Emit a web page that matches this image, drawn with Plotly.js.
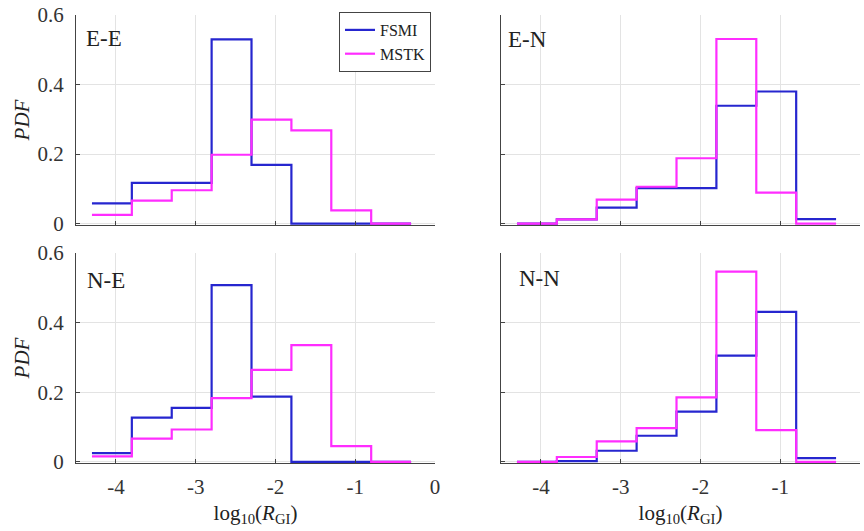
<!DOCTYPE html>
<html>
<head>
<meta charset="utf-8">
<script src="https://cdn.plot.ly/plotly-3.0.1.min.js"></script>
<style>html,body{margin:0;padding:0;background:#fff;}#chart{width:864px;height:531px;}</style>
</head>
<body>
<div id="chart"></div>
<script>
// Bin edges of log10(R_GI) histograms (8 bins, width 0.5)
var binEdges = [-4.3, -3.8, -3.3, -2.8, -2.3, -1.8, -1.3, -0.8, -0.3];
var panelNames = ['E-E', 'E-N', 'N-E', 'N-N'];
var seriesNames = ['FSMI', 'MSTK'];

// PDF values per bin
var fsmiEE = [0.058, 0.117, 0.117, 0.530, 0.169, 0.000, 0.000, 0.000];
var mstkEE = [0.025, 0.066, 0.096, 0.198, 0.299, 0.268, 0.038, 0.000];
var fsmiEN = [0.000, 0.012, 0.046, 0.102, 0.102, 0.339, 0.380, 0.013];
var mstkEN = [0.000, 0.012, 0.069, 0.106, 0.188, 0.531, 0.089, 0.000];
var fsmiNE = [0.025, 0.127, 0.155, 0.507, 0.187, 0.000, 0.000, 0.000];
var mstkNE = [0.016, 0.067, 0.093, 0.183, 0.264, 0.335, 0.045, 0.000];
var fsmiNN = [0.000, 0.002, 0.032, 0.075, 0.144, 0.305, 0.430, 0.011];
var mstkNN = [0.000, 0.014, 0.059, 0.097, 0.185, 0.546, 0.091, 0.000];

var xTickVals = [-4, -3, -2, -1, 0];
var xTickText = ['-4', '-3', '-2', '-1', '0'];
var yTickVals = [0, 0.2, 0.4, 0.6];
var yTickText = ['0', '0.2', '0.4', '0.6'];

var colors = {FSMI: '#2626cf', MSTK: '#ff2dff'};
var FONT = 'Liberation Serif';

function stairY(v) { return v.concat([v[v.length - 1]]); }

var panels = [
  {name: panelNames[0], f: fsmiEE, m: mstkEE, xa: 'x', ya: 'y'},
  {name: panelNames[1], f: fsmiEN, m: mstkEN, xa: 'x2', ya: 'y2'},
  {name: panelNames[2], f: fsmiNE, m: mstkNE, xa: 'x3', ya: 'y3'},
  {name: panelNames[3], f: fsmiNN, m: mstkNN, xa: 'x4', ya: 'y4'}
];

var traces = [];
panels.forEach(function (p, i) {
  [[seriesNames[0], p.f], [seriesNames[1], p.m]].forEach(function (s) {
    traces.push({
      type: 'scatter', mode: 'lines',
      x: binEdges, y: stairY(s[1]),
      line: {shape: 'hv', color: colors[s[0]], width: 2.2},
      name: s[0], legendgroup: s[0], showlegend: i === 0,
      xaxis: p.xa, yaxis: p.ya, hoverinfo: 'x+y'
    });
  });
});

var W = 864, H = 531;
var colX = [[76, 435], [501, 860]];
var rowY = [[15, 225], [252.7, 463.3]];
function dx(c) { return [colX[c][0] / W, colX[c][1] / W]; }
function dy(r) { return [(H - rowY[r][1]) / H, (H - rowY[r][0]) / H]; }

function xAxis(c, r, anchor, showLabels) {
  var a = {
    domain: dx(c), anchor: anchor, range: [-4.5, 0],
    tickvals: xTickVals, ticktext: xTickText, showticklabels: showLabels,
    ticks: 'inside', ticklen: 4, tickcolor: '#444',
    showline: true, linecolor: '#444', linewidth: 1,
    showgrid: true, gridcolor: '#e3e3e3', gridwidth: 1, zeroline: false,
    tickfont: {family: FONT, size: 21, color: '#333'}, ticklabelstandoff: 4,
    fixedrange: true
  };
  if (showLabels) {
    a.title = {text: 'log<sub>10</sub>(<i>R</i><sub>GI</sub>)', font: {family: FONT, size: 21, color: '#222'}, standoff: 7};
  }
  return a;
}
function yAxis(c, r, anchor, showLabels) {
  var a = {
    domain: dy(r), anchor: anchor, range: [-0.004, 0.6],
    tickvals: yTickVals, ticktext: yTickText, showticklabels: showLabels,
    ticks: 'inside', ticklen: 4, tickcolor: '#444',
    showline: true, linecolor: '#444', linewidth: 1,
    showgrid: true, gridcolor: '#e3e3e3', gridwidth: 1, zeroline: false,
    tickfont: {family: FONT, size: 21, color: '#333'}, ticklabelstandoff: 7,
    fixedrange: true
  };
  if (showLabels) {
    a.title = {text: '<i>PDF</i>', font: {family: FONT, size: 21, color: '#222'}, standoff: 2};
  }
  return a;
}

var labelPos = [
  {xref: 'x domain', yref: 'y domain', x: 0.022, y: 0.89},
  {xref: 'x2 domain', yref: 'y2 domain', x: 0.014, y: 0.885},
  {xref: 'x3 domain', yref: 'y3 domain', x: 0.025, y: 0.87},
  {xref: 'x4 domain', yref: 'y4 domain', x: 0.045, y: 0.878}
];
var annotations = labelPos.map(function (lp, i) {
  return {
    xref: lp.xref, yref: lp.yref, x: lp.x, y: lp.y,
    xanchor: 'left', yanchor: 'middle', showarrow: false,
    text: panelNames[i], font: {family: FONT, size: 23, color: '#222'}
  };
});

var layout = {
  width: W, height: H,
  margin: {l: 0, r: 0, t: 0, b: 0},
  paper_bgcolor: '#fff', plot_bgcolor: '#fff',
  font: {family: FONT, color: '#222'},
  xaxis: xAxis(0, 0, 'y', false),
  yaxis: yAxis(0, 0, 'x', true),
  xaxis2: xAxis(1, 0, 'y2', false),
  yaxis2: yAxis(1, 0, 'x2', false),
  xaxis3: xAxis(0, 1, 'y3', true),
  yaxis3: yAxis(0, 1, 'x3', true),
  xaxis4: xAxis(1, 1, 'y4', true),
  yaxis4: yAxis(1, 1, 'x4', false),
  showlegend: true,
  legend: {
    x: 431 / W, y: (H - 12) / H, xanchor: 'right', yanchor: 'top',
    bgcolor: '#fff', bordercolor: '#444', borderwidth: 1,
    font: {family: FONT, size: 16, color: '#222'},
    tracegroupgap: 0, itemwidth: 30
  },
  annotations: annotations
};

Plotly.newPlot('chart', traces, layout, {displayModeBar: false});
</script>
</body>
</html>
